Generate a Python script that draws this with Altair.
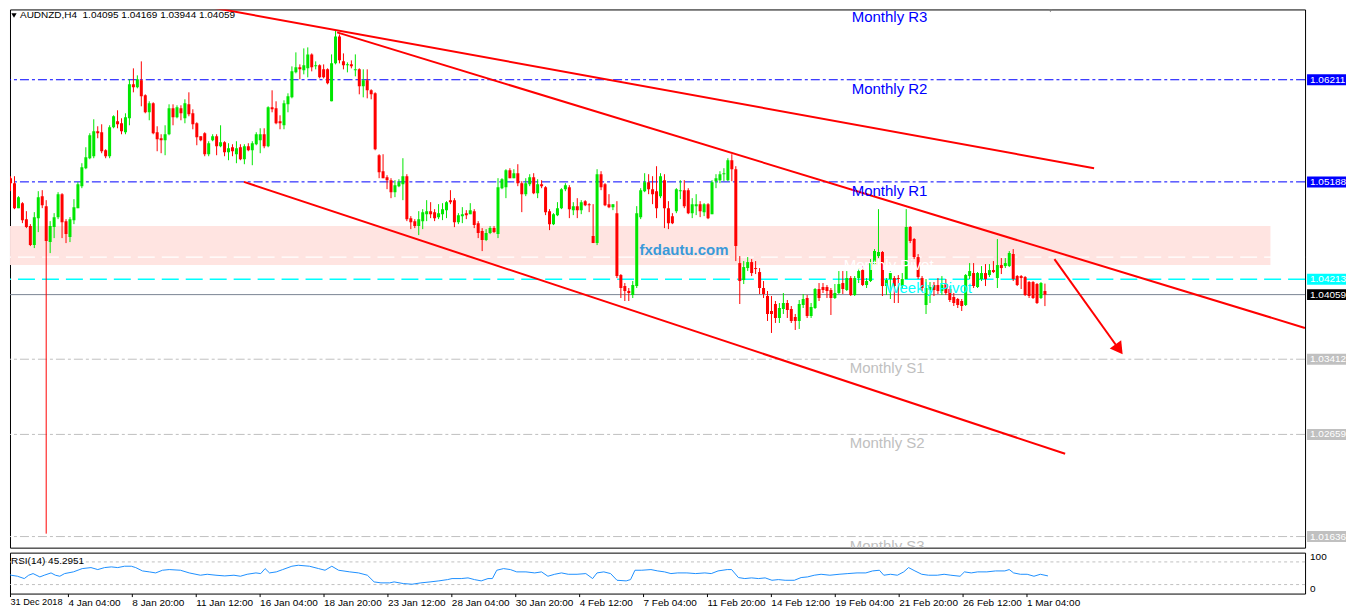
import json
import altair as alt
import pandas as pd

# ---------------- data ----------------
open_ = [
    1.05225, 1.05175, 1.04925, 1.04975, 1.04815, 1.04745, 1.04555, 1.04825, 1.05045, 1.04945,
    1.04585, 1.04735, 1.04835, 1.05065, 1.04795, 1.04635, 1.04805, 1.04925, 1.05145, 1.05325,
    1.05425, 1.05445, 1.05695, 1.05685, 1.05505, 1.05445, 1.05735, 1.05795, 1.05775, 1.05685,
    1.05825, 1.06165, 1.06135, 1.06205, 1.06055, 1.05885, 1.05975, 1.05685, 1.05625, 1.05605,
    1.05665, 1.05925, 1.05835, 1.05925, 1.05825, 1.05965, 1.05875, 1.05775, 1.05645, 1.05675,
    1.05465, 1.05605, 1.05645, 1.05545, 1.05585, 1.05485, 1.05535, 1.05465, 1.05535, 1.05415,
    1.05545, 1.05505, 1.05565, 1.05605, 1.05665, 1.05545, 1.05935, 1.05925, 1.05795, 1.05755,
    1.05965, 1.06035, 1.06285, 1.06335, 1.06305, 1.06325, 1.06465, 1.06345, 1.06355, 1.06315,
    1.06315, 1.05995, 1.06375, 1.06645, 1.06395, 1.06355, 1.06365, 1.06305, 1.06315, 1.06145,
    1.06205, 1.06105, 1.06075, 1.05455, 1.05295, 1.05235, 1.05205, 1.05085, 1.05145, 1.05165,
    1.05245, 1.04825, 1.04795, 1.04745, 1.04795, 1.04865, 1.04895, 1.04885, 1.04835, 1.04865,
    1.04905, 1.05005, 1.05005, 1.04785, 1.04845, 1.04875, 1.04865, 1.04895, 1.04775, 1.04695,
    1.04605, 1.04675, 1.04725, 1.04665, 1.05125, 1.05135, 1.05305, 1.05225, 1.05275, 1.05175,
    1.05065, 1.05165, 1.05235, 1.05075, 1.05165, 1.05135, 1.04895, 1.04765, 1.04855, 1.04925,
    1.05115, 1.05135, 1.04905, 1.04945, 1.04905, 1.04995, 1.04965, 1.04645, 1.04575, 1.05265,
    1.05165, 1.04965, 1.04935, 1.04875, 1.04255, 1.04145, 1.04095, 1.04055, 1.04145, 1.04835,
    1.05095, 1.05185, 1.05115, 1.05095, 1.05045, 1.05205, 1.04925, 1.04845, 1.04895, 1.05095,
    1.05105, 1.05105, 1.04875, 1.04945, 1.04965, 1.04885, 1.04965, 1.04865, 1.05195, 1.05205,
    1.05265, 1.05205, 1.05405, 1.05315, 1.04375, 1.04205, 1.04325, 1.04385, 1.04325, 1.04285,
    1.04125, 1.04045, 1.03895, 1.03965, 1.03825, 1.03915, 1.03975, 1.03915, 1.03835, 1.03795,
    1.03955, 1.04025, 1.03845, 1.03925, 1.04115, 1.04135, 1.04135, 1.04105, 1.04025, 1.04075,
    1.04175, 1.04105, 1.04225, 1.04055, 1.04225, 1.04305, 1.04155, 1.04195, 1.04365, 1.04445,
    1.04485, 1.04145, 1.04215, 1.04225, 1.04225, 1.04145, 1.04215, 1.04735, 1.04615, 1.04435,
    1.04225, 1.03955, 1.04105, 1.04155, 1.04155, 1.04095, 1.04165, 1.04115, 1.04035, 1.04015,
    1.03995, 1.03955, 1.04245, 1.04275, 1.04135, 1.04215, 1.04275, 1.04255, 1.04305, 1.04225,
    1.04355, 1.04345, 1.04345, 1.04465, 1.04245, 1.04245, 1.04235, 1.04185, 1.04185, 1.04165,
    1.04025, 1.04095,
]
high = [
    1.05245, 1.05245, 1.05045, 1.04985, 1.04895, 1.04765, 1.04885, 1.05095, 1.05105, 1.05005,
    1.04795, 1.04875, 1.05085, 1.05075, 1.04815, 1.04835, 1.05015, 1.05185, 1.05375, 1.05535,
    1.05675, 1.05815, 1.05745, 1.05765, 1.05515, 1.05755, 1.05855, 1.05905, 1.05825, 1.05875,
    1.06215, 1.06325, 1.06255, 1.06395, 1.06065, 1.05995, 1.05985, 1.05745, 1.05665, 1.05755,
    1.05965, 1.05965, 1.05955, 1.05955, 1.06015, 1.06085, 1.05915, 1.05785, 1.05645, 1.05685,
    1.05595, 1.05665, 1.05665, 1.05755, 1.05595, 1.05575, 1.05565, 1.05595, 1.05565, 1.05565,
    1.05575, 1.05595, 1.05685, 1.05725, 1.05725, 1.05945, 1.06105, 1.05995, 1.05855, 1.06005,
    1.06075, 1.06345, 1.06485, 1.06365, 1.06525, 1.06535, 1.06475, 1.06395, 1.06365, 1.06365,
    1.06325, 1.06465, 1.06705, 1.06665, 1.06475, 1.06385, 1.06405, 1.06465, 1.06325, 1.06315,
    1.06315, 1.06115, 1.06085, 1.05465, 1.05465, 1.05255, 1.05225, 1.05205, 1.05215, 1.05425,
    1.05265, 1.04845, 1.04815, 1.04895, 1.04915, 1.05005, 1.04985, 1.04915, 1.04965, 1.04975,
    1.04995, 1.05105, 1.05025, 1.04875, 1.04935, 1.04905, 1.04975, 1.04915, 1.04795, 1.04725,
    1.04715, 1.04745, 1.04745, 1.05225, 1.05225, 1.05315, 1.05325, 1.05315, 1.05365, 1.05195,
    1.05225, 1.05265, 1.05275, 1.05215, 1.05205, 1.05145, 1.04915, 1.04875, 1.04985, 1.05125,
    1.05175, 1.05155, 1.04985, 1.05025, 1.05005, 1.05005, 1.04975, 1.04965, 1.05315, 1.05295,
    1.05175, 1.05065, 1.04965, 1.04995, 1.04265, 1.04175, 1.04125, 1.04195, 1.04945, 1.05125,
    1.05275, 1.05265, 1.05245, 1.05345, 1.05275, 1.05265, 1.04995, 1.04875, 1.05125, 1.05205,
    1.05205, 1.05125, 1.05025, 1.05065, 1.04995, 1.04975, 1.04975, 1.05205, 1.05265, 1.05295,
    1.05325, 1.05425, 1.05465, 1.05345, 1.04445, 1.04395, 1.04435, 1.04415, 1.04395, 1.04325,
    1.04195, 1.04095, 1.04045, 1.03995, 1.03975, 1.04075, 1.04005, 1.03945, 1.03865, 1.04005,
    1.04065, 1.04055, 1.03975, 1.04125, 1.04175, 1.04175, 1.04155, 1.04125, 1.04165, 1.04295,
    1.04295, 1.04295, 1.04245, 1.04245, 1.04325, 1.04345, 1.04225, 1.04415, 1.04515, 1.04915,
    1.04495, 1.04225, 1.04295, 1.04245, 1.04255, 1.04275, 1.04915, 1.04745, 1.04625, 1.04465,
    1.04245, 1.04215, 1.04185, 1.04185, 1.04225, 1.04245, 1.04215, 1.04145, 1.04075, 1.04025,
    1.04015, 1.04265, 1.04375, 1.04375, 1.04285, 1.04345, 1.04365, 1.04365, 1.04395, 1.04615,
    1.04425, 1.04425, 1.04495, 1.04515, 1.04255, 1.04255, 1.04245, 1.04195, 1.04195, 1.04175,
    1.04185, 1.04169,
]
low = [
    1.05095, 1.04915, 1.04925, 1.04775, 1.04725, 1.04545, 1.04525, 1.04685, 1.04925, 1.01665,
    1.04475, 1.04625, 1.04815, 1.04625, 1.04575, 1.04585, 1.04765, 1.04925, 1.05125, 1.05315,
    1.05415, 1.05425, 1.05625, 1.05475, 1.05425, 1.05425, 1.05725, 1.05725, 1.05665, 1.05665,
    1.05755, 1.06085, 1.06125, 1.05945, 1.05875, 1.05805, 1.05665, 1.05495, 1.05475, 1.05455,
    1.05655, 1.05755, 1.05825, 1.05805, 1.05775, 1.05845, 1.05715, 1.05555, 1.05595, 1.05445,
    1.05445, 1.05595, 1.05455, 1.05535, 1.05445, 1.05405, 1.05445, 1.05375, 1.05405, 1.05365,
    1.05495, 1.05355, 1.05555, 1.05475, 1.05525, 1.05535, 1.05885, 1.05765, 1.05715, 1.05715,
    1.05885, 1.06025, 1.06275, 1.06215, 1.06265, 1.06235, 1.06295, 1.06315, 1.06225, 1.06225,
    1.06165, 1.05995, 1.06365, 1.06375, 1.06315, 1.06285, 1.06325, 1.06245, 1.06065, 1.06035,
    1.06025, 1.06015, 1.05505, 1.05225, 1.05225, 1.05115, 1.05025, 1.05035, 1.05135, 1.05005,
    1.04795, 1.04715, 1.04725, 1.04655, 1.04715, 1.04795, 1.04825, 1.04795, 1.04815, 1.04805,
    1.04825, 1.04965, 1.04735, 1.04765, 1.04775, 1.04815, 1.04865, 1.04725, 1.04625, 1.04495,
    1.04595, 1.04665, 1.04675, 1.04625, 1.05115, 1.05025, 1.05225, 1.05225, 1.05145, 1.04885,
    1.05045, 1.05145, 1.05065, 1.05025, 1.05125, 1.04855, 1.04705, 1.04755, 1.04845, 1.04915,
    1.05095, 1.04825, 1.04855, 1.04825, 1.04865, 1.04945, 1.04885, 1.04575, 1.04555, 1.05105,
    1.04945, 1.04925, 1.04905, 1.04225, 1.04025, 1.03995, 1.03995, 1.04025, 1.04125, 1.04815,
    1.05085, 1.05065, 1.04965, 1.04825, 1.05025, 1.04725, 1.04715, 1.04765, 1.04875, 1.05015,
    1.04925, 1.04865, 1.04825, 1.04855, 1.04835, 1.04845, 1.04815, 1.04865, 1.05125, 1.05175,
    1.05195, 1.05195, 1.05195, 1.04395, 1.03965, 1.04165, 1.04295, 1.04245, 1.04265, 1.04065,
    1.04025, 1.03795, 1.03675, 1.03775, 1.03775, 1.03865, 1.03825, 1.03775, 1.03705, 1.03715,
    1.03925, 1.03825, 1.03825, 1.03915, 1.03995, 1.04075, 1.04025, 1.03855, 1.04015, 1.04065,
    1.04065, 1.04095, 1.04045, 1.04045, 1.04175, 1.04145, 1.04125, 1.04185, 1.04355, 1.04425,
    1.04045, 1.04055, 1.04015, 1.03975, 1.03975, 1.04125, 1.04215, 1.04575, 1.04415, 1.04215,
    1.04095, 1.03865, 1.03975, 1.04045, 1.04065, 1.04055, 1.04055, 1.03985, 1.03945, 1.03925,
    1.03895, 1.03945, 1.04215, 1.04125, 1.04125, 1.04195, 1.04145, 1.04235, 1.04275, 1.04125,
    1.04265, 1.04325, 1.04335, 1.04195, 1.04145, 1.04115, 1.04045, 1.04025, 1.04015, 1.03965,
    1.04015, 1.03944,
]
close = [
    1.05175, 1.04925, 1.05035, 1.04805, 1.04735, 1.04555, 1.04835, 1.05035, 1.04955, 1.04595,
    1.04745, 1.04835, 1.05065, 1.04785, 1.04665, 1.04815, 1.04935, 1.05165, 1.05335, 1.05435,
    1.05655, 1.05695, 1.05675, 1.05495, 1.05445, 1.05735, 1.05845, 1.05765, 1.05695, 1.05835,
    1.06165, 1.06135, 1.06215, 1.06045, 1.05885, 1.05975, 1.05675, 1.05615, 1.05605, 1.05665,
    1.05925, 1.05835, 1.05935, 1.05875, 1.05975, 1.05865, 1.05765, 1.05635, 1.05605, 1.05465,
    1.05575, 1.05645, 1.05545, 1.05585, 1.05485, 1.05525, 1.05495, 1.05525, 1.05415, 1.05545,
    1.05505, 1.05575, 1.05665, 1.05665, 1.05545, 1.05935, 1.05915, 1.05775, 1.05775, 1.05975,
    1.06045, 1.06295, 1.06335, 1.06315, 1.06355, 1.06465, 1.06335, 1.06355, 1.06235, 1.06235,
    1.06175, 1.06375, 1.06645, 1.06405, 1.06355, 1.06365, 1.06345, 1.06315, 1.06145, 1.06205,
    1.06105, 1.06065, 1.05515, 1.05285, 1.05225, 1.05205, 1.05085, 1.05155, 1.05185, 1.05245,
    1.04815, 1.04785, 1.04745, 1.04815, 1.04885, 1.04895, 1.04865, 1.04825, 1.04875, 1.04915,
    1.04985, 1.04985, 1.04785, 1.04855, 1.04865, 1.04855, 1.04905, 1.04755, 1.04675, 1.04605,
    1.04675, 1.04725, 1.04685, 1.05135, 1.05215, 1.05305, 1.05225, 1.05275, 1.05175, 1.05065,
    1.05175, 1.05235, 1.05075, 1.05165, 1.05145, 1.04885, 1.04765, 1.04865, 1.04925, 1.05115,
    1.05155, 1.04915, 1.04945, 1.04905, 1.04985, 1.04955, 1.04955, 1.04575, 1.05265, 1.05135,
    1.04955, 1.04935, 1.04965, 1.04245, 1.04125, 1.04095, 1.04075, 1.04155, 1.04875, 1.05105,
    1.05185, 1.05115, 1.05065, 1.04925, 1.05245, 1.04925, 1.04775, 1.04775, 1.05115, 1.05105,
    1.04945, 1.04875, 1.04965, 1.04965, 1.04895, 1.04965, 1.04825, 1.05185, 1.05225, 1.05265,
    1.05275, 1.05405, 1.05315, 1.04545, 1.04195, 1.04335, 1.04385, 1.04275, 1.04315, 1.04125,
    1.04065, 1.03865, 1.03865, 1.03825, 1.03925, 1.03975, 1.03905, 1.03795, 1.03795, 1.03965,
    1.04015, 1.03845, 1.03935, 1.04115, 1.04025, 1.04105, 1.04095, 1.04025, 1.04075, 1.04165,
    1.04115, 1.04225, 1.04055, 1.04225, 1.04295, 1.04155, 1.04195, 1.04375, 1.04495, 1.04485,
    1.04145, 1.04205, 1.04275, 1.04145, 1.04215, 1.04215, 1.04735, 1.04595, 1.04435, 1.04235,
    1.04125, 1.04125, 1.04135, 1.04105, 1.04095, 1.04155, 1.04075, 1.04005, 1.03975, 1.03955,
    1.03945, 1.04255, 1.04295, 1.04145, 1.04275, 1.04275, 1.04215, 1.04305, 1.04285, 1.04355,
    1.04325, 1.04375, 1.04475, 1.04215, 1.04155, 1.04225, 1.04055, 1.04045, 1.04025, 1.03975,
    1.04175, 1.04059,
]

time_tick_pos = [1.125, 15.625, 31.625, 47.625, 63.625, 79.625, 95.625, 111.625, 127.625,
                 143.625, 159.625, 175.625, 191.625, 207.625, 223.625, 239.625, 255.625]
time_tick_labels = ["31 Dec 2018", "4 Jan 04:00", "8 Jan 20:00", "11 Jan 12:00", "16 Jan 04:00",
                    "18 Jan 20:00", "23 Jan 12:00", "28 Jan 04:00", "30 Jan 20:00", "4 Feb 12:00",
                    "7 Feb 04:00", "11 Feb 20:00", "14 Feb 12:00", "19 Feb 04:00", "21 Feb 20:00",
                    "26 Feb 12:00", "1 Mar 04:00"]
price_ticks = [1.06835, 1.06505, 1.05845, 1.05515, 1.04855, 1.04525, 1.03870, 1.03540,
               1.03210, 1.02880, 1.02550, 1.02220, 1.01890, 1.01560]

pivot_names = ["Monthly R3", "Monthly R2", "Monthly R1", "Monthly Pivot", "Weekly Pivot",
               "Monthly S1", "Monthly S2", "Monthly S3"]
pivot_prices = [1.06964, 1.06211, 1.05188, 1.04435, 1.04213, 1.03412, 1.02659, 1.01636]
pivot_kinds = ["R3", "R", "R", "MP", "WP", "S", "S", "S"]
last_price = 1.04059

box_prices = [1.06211, 1.05188, 1.04213, 1.04059, 1.03412, 1.02659, 1.01636]
box_fills = ["#0000ff", "#0000ff", "#00ffff", "#000000", "#c0c0c0", "#c0c0c0", "#c0c0c0"]

zone_bars = [-0.125, 317.9]
zone_prices = [1.04745, 1.04355]

trend_ids = ["upper", "upper", "middle", "middle", "lower", "lower"]
trend_bars = [46.6, 273.4, 82.4, 326.6, 58.9, 266.1]
trend_prices = [1.06965, 1.05325, 1.06685, 1.03725, 1.05188, 1.02465]

arrow_bars = [263.4, 279.1]
arrow_prices = [1.04415, 1.03544]
arrow_head_bar = [279.7]
arrow_head_price = [1.03511]

rsi_x = [
    0, 1.4, 3, 4.7, 5.8, 6.9, 8.6, 9.7, 11.4, 12.5,
    13.6, 14.8, 17, 19.2, 21.4, 23.1, 24.8, 26.5, 28.1, 29.8,
    31.5, 32.6, 34.3, 36, 37.6, 39.3, 41, 43.8, 46, 48.8,
    50.5, 52.7, 54.9, 57.2, 58.8, 60.5, 62.7, 63.9, 65, 66.1,
    67.8, 69.4, 71.7, 73.3, 76.1, 78.4, 80, 81.7, 83.4, 86.2,
    88.4, 90.6, 92.3, 94, 96.2, 97.3, 99.6, 101.8, 104, 106.3,
    108.5, 110.7, 111.8, 114.1, 115.8, 117.4, 119.1, 120.8, 121.9, 123,
    124.7, 126.4, 128, 130.3, 132.5, 134.2, 135.8, 137.5, 139.2, 140.9,
    143.1, 145.3, 147, 148.1, 149.8, 151.5, 153.1, 155.4, 156.5, 157.6,
    159.3, 161.6, 163.3, 165, 166.6, 168.3, 170.6, 172.8, 175.1, 176.7,
    178.4, 180.7, 181.8, 183.5, 185.1, 186.8, 188.5, 190.2, 191.9, 193.5,
    195.2, 197.5, 199.2, 200.8, 202.5, 204.2, 206.4, 208.7, 210.9, 213.2,
    215.4, 217.1, 218.8, 219.9, 221.6, 223.3, 224.9, 226.1, 227.7, 229.4,
    231.1, 233.3, 235, 236.7, 239, 240.1, 241.8, 243.4, 245.7, 247.9,
    250.2, 251.3, 252.4, 254.1, 255.8, 257.5, 259.1, 261,
]
rsi_val = [
    52.4, 46.5, 44.7, 40.6, 46.5, 49.4, 43.5, 46.5, 50.6, 46.5,
    44.7, 49.4, 52.4, 58.2, 60.0, 56.5, 60.0, 61.2, 60.0, 62.4,
    62.4, 60.0, 54.1, 52.4, 50.6, 55.3, 56.5, 55.3, 50.6, 46.5,
    48.2, 46.5, 45.3, 46.5, 44.7, 48.2, 50.6, 49.4, 58.2, 50.6,
    52.4, 56.5, 62.4, 64.1, 62.4, 58.2, 55.3, 62.4, 55.3, 52.4,
    50.6, 46.5, 34.7, 33.0, 33.0, 34.7, 31.8, 30.6, 33.0, 34.7,
    36.5, 38.8, 40.6, 40.6, 41.8, 38.8, 36.5, 40.6, 40.6, 55.3,
    58.2, 56.5, 52.4, 52.4, 50.6, 52.4, 44.7, 48.2, 50.6, 48.2,
    48.2, 49.4, 40.6, 50.6, 52.4, 49.4, 37.6, 36.5, 38.8, 55.3,
    55.3, 56.5, 54.1, 52.4, 49.4, 50.6, 50.6, 49.4, 50.6, 49.4,
    54.1, 56.5, 56.5, 42.4, 40.6, 41.8, 40.6, 41.8, 37.6, 38.8,
    37.6, 37.6, 42.4, 43.5, 46.5, 48.2, 46.5, 48.2, 49.4, 50.6,
    50.6, 54.1, 55.3, 46.5, 48.2, 46.5, 52.4, 60.0, 54.1, 48.2,
    46.5, 46.5, 48.2, 46.5, 44.7, 52.4, 50.6, 52.4, 52.4, 54.1,
    54.1, 56.5, 50.6, 48.2, 48.2, 44.7, 48.2, 45.3,
]
rsi_levels = [70, 30]
rsi_extra_labels = ["100", "0"]
rsi_extra_values = [78.5, 23.0]

title_text = ["AUDNZD,H4\u00a0\u00a01.04095 1.04169 1.03944 1.04059"]
rsi_title = ["RSI(14) 45.2951"]
watermark = ["fxdautu.com"]

# ---------------- chart ----------------
FONT = "Liberation Sans"
W, H_MAIN, H_RSI = 1297, 539, 41

xs = alt.Scale(domain=[1.125, 325.375], nice=False, zero=False)
ys = alt.Scale(domain=[1.01525, 1.06915], nice=False, zero=False)
rs = alt.Scale(domain=[14.1, 86.4], nice=False, zero=False)

candles = pd.DataFrame({"i": list(range(len(open_))), "open": open_, "high": high,
                        "low": low, "close": close})
candles["dir"] = ["up" if c >= o else "down" for o, c in zip(open_, close)]
ccol = alt.Color("dir:N", scale=alt.Scale(domain=["up", "down"], range=["#00e600", "#ff0000"]),
                 legend=None)

piv = pd.DataFrame({"name": pivot_names, "price": pivot_prices, "kind": pivot_kinds})

zone = alt.Chart(pd.DataFrame({"x0": [zone_bars[0]], "x1": [zone_bars[1]],
                               "top": [zone_prices[0]], "bot": [zone_prices[1]]})).mark_rect(
    color="#ffe4e1", clip=True).encode(
    x=alt.X("x0:Q", scale=xs, axis=None), x2="x1:Q",
    y=alt.Y("top:Q", scale=ys, axis=None), y2="bot:Q")

blue_rules = alt.Chart(piv).transform_filter("datum.kind == 'R'").mark_rule(
    color="#0000ff", strokeWidth=1, strokeDash=[9, 3, 3, 3]).encode(
    y=alt.Y("price:Q", scale=ys, axis=None))
gray_rules = alt.Chart(piv).transform_filter("datum.kind == 'S'").mark_rule(
    color="#c0c0c0", strokeWidth=1, strokeDash=[9, 3, 3, 3]).encode(
    y=alt.Y("price:Q", scale=ys, axis=None))
mp_rule = alt.Chart(piv).transform_filter("datum.kind == 'MP'").mark_rule(
    color="#ffffff", strokeWidth=1.2, strokeDash=[17, 7]).encode(
    y=alt.Y("price:Q", scale=ys, axis=None))
wp_rule = alt.Chart(piv).transform_filter("datum.kind == 'WP'").mark_rule(
    color="#00ffff", strokeWidth=1.4, strokeDash=[17, 7]).encode(
    y=alt.Y("price:Q", scale=ys, axis=None))
last_rule = alt.Chart(pd.DataFrame({"price": [last_price]})).mark_rule(
    color="#7a8593", strokeWidth=1).encode(y=alt.Y("price:Q", scale=ys, axis=None))

wicks = alt.Chart(candles).mark_rule(strokeWidth=1, clip=True).encode(
    x=alt.X("i:Q", scale=xs, axis=None),
    y=alt.Y("low:Q", scale=ys,
            axis=alt.Axis(orient="right", values=price_ticks, format=".5f", title=None,
                          tickSize=3, labelPadding=2, labelOverlap=False)),
    y2="high:Q", color=ccol)
bodies = alt.Chart(candles).mark_bar(size=3, clip=True).encode(
    x=alt.X("i:Q", scale=xs, axis=None),
    y=alt.Y("open:Q", scale=ys, axis=None), y2="close:Q", color=ccol)

trend = alt.Chart(pd.DataFrame({"id": trend_ids, "bar": trend_bars, "price": trend_prices})).mark_line(
    color="#ff0000", strokeWidth=2, clip=True).encode(
    x=alt.X("bar:Q", scale=xs, axis=None), y=alt.Y("price:Q", scale=ys, axis=None), detail="id:N")
arrow = alt.Chart(pd.DataFrame({"bar": arrow_bars, "price": arrow_prices})).mark_line(
    color="#ff0000", strokeWidth=2).encode(
    x=alt.X("bar:Q", scale=xs, axis=None), y=alt.Y("price:Q", scale=ys, axis=None))
arrow_head = alt.Chart(pd.DataFrame({"bar": arrow_head_bar, "price": arrow_head_price})).mark_point(
    shape="triangle-up", filled=True, size=200, angle=144, color="#ff0000", opacity=1).encode(
    x=alt.X("bar:Q", scale=xs, axis=None), y=alt.Y("price:Q", scale=ys, axis=None))

r3_text = alt.Chart(piv).transform_filter("datum.kind == 'R3'").mark_text(
    align="left", baseline="middle", font=FONT, fontSize=15, color="#0000ff").encode(
    x=alt.value(843), y=alt.value(8), text="name:N")
r_text = alt.Chart(piv).transform_filter("datum.kind == 'R'").mark_text(
    align="left", baseline="middle", dy=9, font=FONT, fontSize=15, color="#0000ff").encode(
    x=alt.value(843), y=alt.Y("price:Q", scale=ys, axis=None), text="name:N")
s_text = alt.Chart(piv).transform_filter("datum.kind == 'S'").mark_text(
    align="left", baseline="middle", dy=9, font=FONT, fontSize=15, color="#c0c0c0", clip=True).encode(
    x=alt.value(841), y=alt.Y("price:Q", scale=ys, axis=None), text="name:N")
mp_text = alt.Chart(piv).transform_filter("datum.kind == 'MP'").mark_text(
    align="left", baseline="middle", dy=8, font=FONT, fontSize=15, color="#ffffff").encode(
    x=alt.value(835), y=alt.Y("price:Q", scale=ys, axis=None), text="name:N")
wp_text = alt.Chart(piv).transform_filter("datum.kind == 'WP'").mark_text(
    align="left", baseline="middle", dy=9, font=FONT, fontSize=15, color="#00ffff").encode(
    x=alt.value(877), y=alt.Y("price:Q", scale=ys, axis=None), text="name:N")

wm = alt.Chart(pd.DataFrame({"t": watermark})).mark_text(
    align="center", baseline="middle", font=FONT, fontSize=15, fontWeight="bold",
    color="#3a9ad9").encode(x=alt.value(675), y=alt.value(241), text="t:N")
title = alt.Chart(pd.DataFrame({"t": title_text})).mark_text(
    align="left", baseline="middle", font=FONT, fontSize=10, color="#000000").encode(
    x=alt.value(10), y=alt.value(6), text="t:N")
title_tri = alt.Chart(pd.DataFrame({"t": title_text})).mark_point(
    shape="triangle-down", filled=True, size=28, color="#000000", opacity=1).encode(
    x=alt.value(4), y=alt.value(6))
shift_tri = alt.Chart(pd.DataFrame({"t": title_text})).mark_point(
    shape="triangle-down", filled=True, size=45, color="#808080", opacity=1, clip=True).encode(
    x=alt.value(1042), y=alt.value(0))

boxes_df = pd.DataFrame({"price": box_prices, "fill": box_fills})
boxes = alt.Chart(boxes_df).transform_calculate(
    top="datum.price + 0.00055", bot="datum.price - 0.00055").mark_rect().encode(
    x=alt.value(1299), x2=alt.value(1338),
    y=alt.Y("top:Q", scale=ys, axis=None), y2="bot:Q",
    color=alt.Color("fill:N", scale=None))
box_text = alt.Chart(boxes_df).mark_text(
    align="left", baseline="middle", font=FONT, fontSize=10, color="#ffffff").encode(
    x=alt.value(1302), y=alt.Y("price:Q", scale=ys, axis=None),
    text=alt.Text("price:Q", format=".5f"))

main = alt.layer(
    zone, blue_rules, gray_rules, mp_rule, wp_rule, last_rule,
    wicks, bodies, trend, arrow, arrow_head,
    r3_text, r_text, s_text, mp_text, wp_text, wm, title, title_tri, shift_tri,
    boxes, box_text,
).properties(width=W, height=H_MAIN)

label_expr = f"{json.dumps(time_tick_labels)}[indexof({json.dumps(time_tick_pos)}, datum.value)]"
xaxis = alt.Axis(values=time_tick_pos, labelExpr=label_expr, labelAlign="left",
                 labelBaseline="top", tickSize=3, labelPadding=1, title=None,
                 labelOverlap=False, labelFlush=False,
                 labelFontSize={"condition": {"test": "datum.value < 2", "value": 9.2}, "value": 10})

levels = alt.Chart(pd.DataFrame({"lvl": rsi_levels})).mark_rule(
    color="#c0c0c0", strokeDash=[3, 3]).encode(y=alt.Y("lvl:Q", scale=rs, axis=None))
rsi_line = alt.Chart(pd.DataFrame({"x": rsi_x, "rsi": rsi_val})).mark_line(
    color="#1e90ff", strokeWidth=1, clip=True).encode(
    x=alt.X("x:Q", scale=xs, axis=xaxis),
    y=alt.Y("rsi:Q", scale=rs,
            axis=alt.Axis(orient="right", values=rsi_levels, title=None, tickSize=3,
                          labelPadding=2, format="d", labelOverlap=False)))
rsi_extra = alt.Chart(pd.DataFrame({"t": rsi_extra_labels, "v": rsi_extra_values})).mark_text(
    align="left", baseline="middle", font=FONT, fontSize=10, color="#000000").encode(
    x=alt.value(1302), y=alt.Y("v:Q", scale=rs, axis=None), text="t:N")
rsi_ttl = alt.Chart(pd.DataFrame({"t": rsi_title})).mark_text(
    align="left", baseline="middle", font=FONT, fontSize=10, color="#000000").encode(
    x=alt.value(1), y=alt.value(8), text="t:N")

rsi = alt.layer(levels, rsi_line, rsi_extra, rsi_ttl).properties(width=W, height=H_RSI)

chart = alt.vconcat(main, rsi, spacing=2).properties(
    padding=0,
    background="white",
).configure_view(stroke="#000000", strokeWidth=1).configure_axis(
    labelFont=FONT, labelFontSize=10, labelColor="#000000", tickColor="#000000",
    domain=False, grid=False)

chart.save("out.html", embed_options={"renderer": "svg", "actions": False})
